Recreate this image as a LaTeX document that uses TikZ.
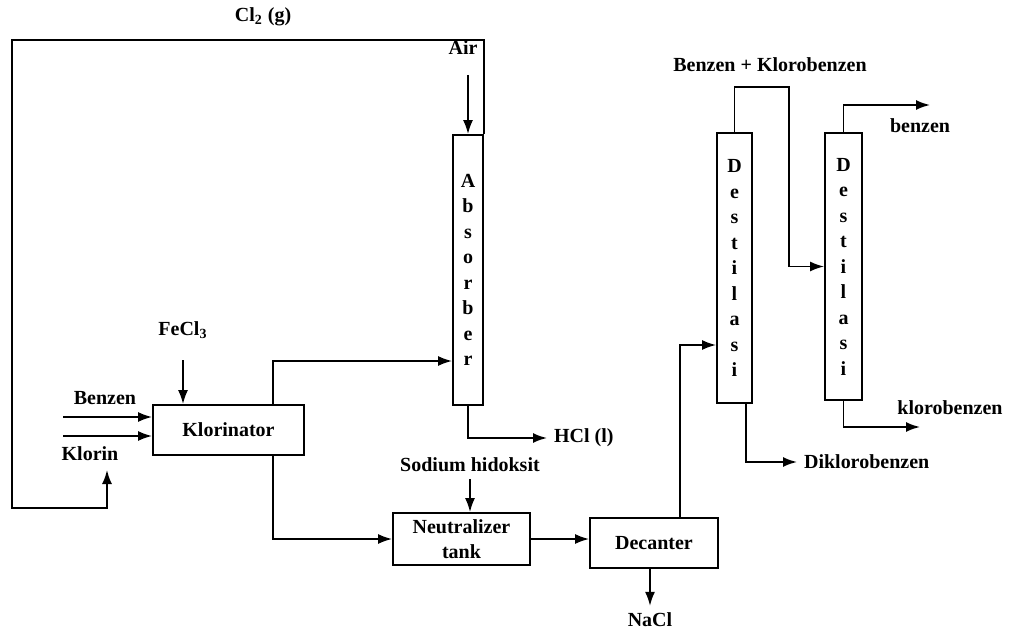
\documentclass[tikz,border=0pt]{standalone}
\usepackage{fontspec}
\setmainfont{Liberation Serif}
\usetikzlibrary{arrows.meta,positioning}

\begin{document}
\begin{tikzpicture}[x=0.5pt, y=-0.5pt, font=\bfseries,
    unit/.style={rectangle, draw, line width=0.9pt, inner sep=1pt},
    column/.style={rectangle, draw, line width=0.9pt, minimum width=16pt, minimum height=135pt, align=center, inner sep=0pt, font=\bfseries\fontsize{10}{12.75}\selectfont},
    arrow/.style={-{Latex[length=7pt,width=5pt]}, line width=0.9pt}]

\useasboundingbox (0,0) rectangle (1019,631);

% units
\node[unit, minimum width=75.5pt, minimum height=25pt] (klor) at (228.5,430) {Klorinator};
\node[column, minimum width=15pt] (abs) at (468,270) {A\\b\\s\\o\\r\\b\\e\\r};
\node[unit, minimum width=68.5pt, minimum height=26pt, align=center, inner sep=0.5pt, font=\bfseries\fontsize{10}{12.5}\selectfont] (neut) at (461.5,539) {Neutralizer\\tank};
\node[unit, minimum width=64pt, minimum height=25pt] (dec) at (654,543) {Decanter};
\node[column, minimum width=17.5pt] (dst1) at (734.5,268) {D\\e\\s\\t\\i\\l\\a\\s\\i};
\node[column, minimum width=18.5pt, minimum height=133.5pt] (dst2) at (843.5,266.5) {D\\e\\s\\t\\i\\l\\a\\s\\i};

% stream labels
\node (cl2) at (263,17) {Cl\textsubscript{2} (g)};
\node (air) at (463,48) {Air};
\node (fecl) at (183,330) {FeCl\textsubscript{3}};
\node (bz) at (105,398) {Benzen};
\node (kl) at (90,454) {Klorin};
\node[anchor=west] (hcl) at (547,438) {HCl (l)};
\node (naoh) at (470,465) {Sodium hidoksit};
\node (nacl) at (650,620) {NaCl};
\node (bkb) at (770,65) {Benzen + Klorobenzen};
\node (bzo) at (920,126) {benzen};
\node (kbo) at (950,408) {klorobenzen};
\node[anchor=west] (dkb) at (797,462) {Diklorobenzen};

% free ends and bends
\coordinate (rtop) at (12,40);
\coordinate (rbot) at (12,508);
\coordinate (klin) at (107,470);
\coordinate (bzin) at (63,417);
\coordinate (klin2) at (63,436);
\coordinate (airin) at (468,75);
\coordinate (fein) at (183,360);
\coordinate (kout) at (273,361);
\coordinate (dup) at (680,345);
\coordinate (dtop) at (789,87);
\coordinate (bzend) at (930,105);
\coordinate (kbend) at (920,427);

% streams
\draw[arrow] (abs.north east) |- (rtop) -- (rbot) -| (klin);
\draw[arrow] (bzin) -- (bzin -| klor.west);
\draw[arrow] (klin2) -- (klin2 -| klor.west);
\draw[arrow] (fein) -- (fein |- klor.north);
\draw[arrow] (airin) -- (abs.north);
\draw[arrow] (kout |- klor.north) -- (kout) -- (kout -| abs.west);
\draw[arrow] (kout |- klor.south) |- (neut.west);
\draw[arrow] (naoh.south) -- (naoh.south |- neut.north);
\draw[arrow] (neut.east) -- (neut.east -| dec.west);
\draw[arrow] (dec.south -| nacl) -- (nacl.north);
\draw[arrow] (abs.south) |- (hcl.west);
\draw[arrow] (dup |- dec.north) -- (dup) -- (dup -| dst1.west);
\draw[arrow] (dst1.north) |- (dtop) |- (dst2.west);
\draw[arrow] (dst2.north) |- (bzend);
\draw[arrow] (dst2.south) |- (kbend);
\draw[arrow] ([xshift=5.75pt]dst1.south) |- (dkb.west);

\end{tikzpicture}
\end{document}
